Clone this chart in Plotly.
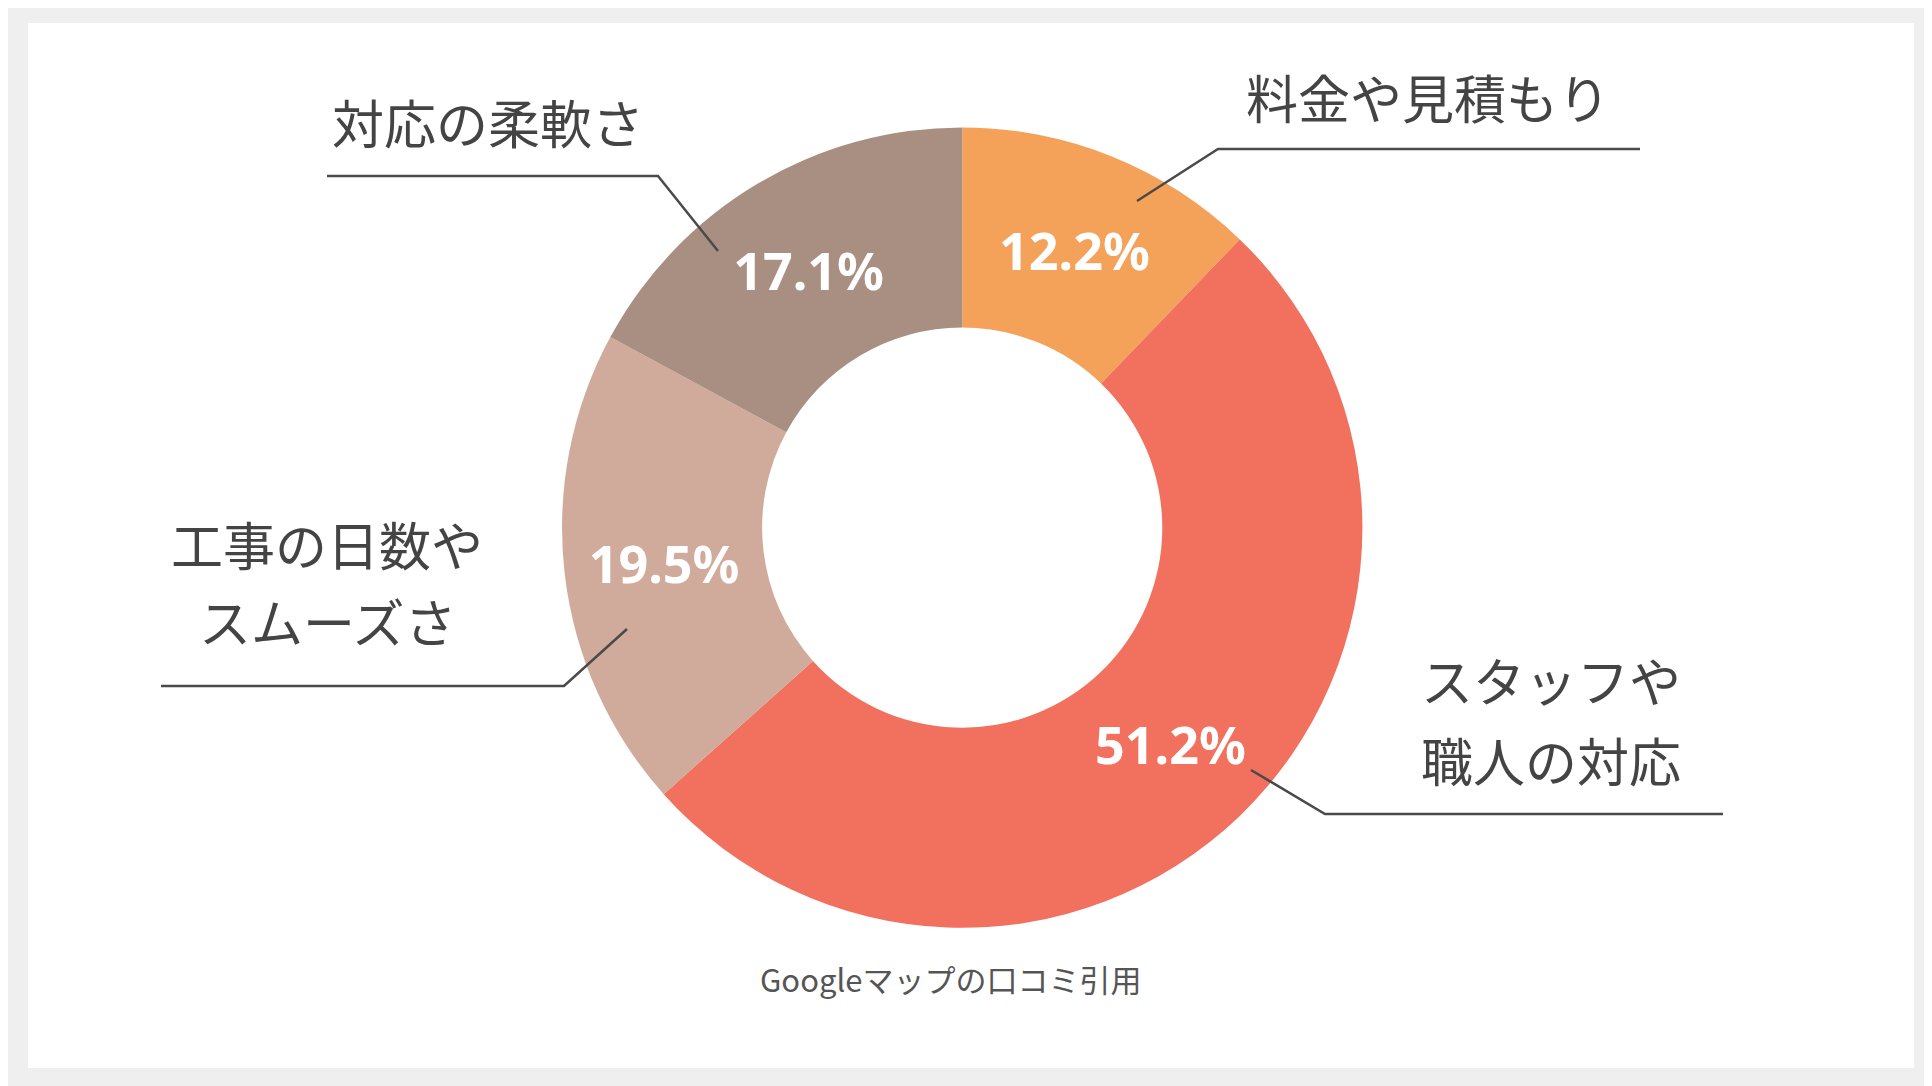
import plotly.graph_objects as go

categories = ["料金や見積もり", "スタッフや職人の対応", "工事の日数やスムーズさ", "対応の柔軟さ"]
values = [12.2, 51.2, 19.5, 17.1]
colors = ["#F4A15A", "#F2705E", "#D0AA9B", "#A98E82"]

W, H = 1932, 1086
D = 7
def px(x, y):
    return (x - D) / W, 1 - (y - D) / H

fig = go.Figure(go.Pie(
    labels=categories, values=values, sort=False, direction="clockwise", rotation=0,
    hole=0.5, marker=dict(colors=colors, line=dict(width=0)),
    texttemplate="%{value:.1f}%", textposition="inside", insidetextorientation="horizontal",
    textfont=dict(family="Noto Sans", size=52, color="white", weight="bold"),
    domain=dict(x=[0.2864, 0.7014], y=[0.153, 0.890]), showlegend=False, hoverinfo="label+value",
))

x0, y0 = px(27, 22)
x1, y1 = px(1913, 1067)
shapes = [dict(type="rect", xref="paper", yref="paper", x0=x0, x1=x1, y0=y1, y1=y0,
               fillcolor="white", line=dict(width=0), layer="below")]
lines = [
    [(1136, 200), (1217, 148), (1639, 148)],
    [(326, 175), (657, 175), (717, 250)],
    [(160, 685), (563, 685), (626, 628)],
    [(1250, 769), (1324, 813), (1722, 813)],
]
for pts in lines:
    path = "M " + " L ".join("{} {}".format(*px(x, y)) for x, y in pts)
    shapes.append(dict(type="path", xref="paper", yref="paper", path=path,
                       line=dict(color="#4a4a4a", width=2.5)))

ann_text = [
    ("料金や見積もり", 1427, 96),
    ("対応の柔軟さ", 487, 120),
    ("工事の日数や", 326, 542),
    ("スムーズさ", 326, 620),
    ("スタッフや", 1550, 678),
    ("職人の対応", 1550, 758),
]
annotations = []
for t, x, y in ann_text:
    xx, yy = px(x, y)
    annotations.append(dict(text=t, x=xx, y=yy, xref="paper", yref="paper", showarrow=False,
                            xanchor="center", yanchor="middle",
                            font=dict(family="Noto Sans CJK JP", size=52, color="#444444")))
xx, yy = px(949, 1002)
annotations.append(dict(text="Googleマップの口コミ引用", x=xx, y=yy, xref="paper", yref="paper",
                        showarrow=False, font=dict(family="Noto Sans CJK JP", size=31, color="#555555")))

fig.update_layout(width=W, height=H, margin=dict(l=0, r=0, t=0, b=0),
                  paper_bgcolor="#EFEFEF", plot_bgcolor="#EFEFEF",
                  shapes=shapes, annotations=annotations)
fig.write_html("out.html")
